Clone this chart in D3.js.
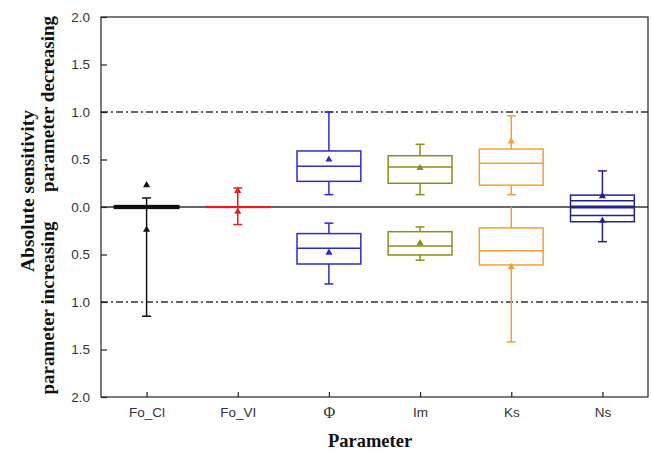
<!DOCTYPE html>
<html>
<head>
<meta charset="utf-8">
<script src="https://cdn.jsdelivr.net/npm/d3@7"></script>
<style>
  html, body { margin: 0; padding: 0; background: #fff; }
  svg { display: block; }
</style>
</head>
<body>
<svg id="chart" width="651" height="451"></svg>
<script>
// ---- data ----
const categories = ["Fo_Cl", "Fo_VI", "Φ", "Im", "Ks", "Ns"];
const colors = ["#111111", "#e0201c", "#2b2bd0", "#8c8c20", "#f5a035", "#22228c"];
// parameter decreasing (upper half): [whiskerLow, q1, median, q3, whiskerHigh, mean]
const decWhiskerLow  = [0,     0,     0.13, 0.13, 0.13, 0];
const decQ1          = [0,     0,     0.27, 0.25, 0.23, 0];
const decMedian      = [0,     0,     0.43, 0.42, 0.46, 0.065];
const decQ3          = [0.012, 0.004, 0.59, 0.54, 0.61, 0.125];
const decWhiskerHigh = [0.095, 0.20,  1.00, 0.66, 0.96, 0.38];
const decMean        = [0.23,  0.17,  0.50, 0.41, 0.69, 0.115];
// parameter increasing (lower half), absolute values
const incWhiskerLow  = [0,     0,     0.17, 0.21, 0,    0];
const incQ1          = [0,     0,     0.28, 0.26, 0.22, 0];
const incMedian      = [0,     0,     0.435,0.41, 0.46, 0.09];
const incQ3          = [0.012, 0.004, 0.60, 0.505,0.61, 0.155];
const incWhiskerHigh = [1.15,  0.185, 0.81, 0.56, 1.42, 0.365];
const incMean        = [0.24,  0.05,  0.48, 0.38, 0.63, 0.145];
const yTicks = [-2, -1.5, -1, -0.5, 0, 0.5, 1, 1.5, 2];

// ---- layout ----
const svg = d3.select("#chart");
const L = 101, R = 648, T = 17, B = 397;
const x = d3.scaleLinear().domain([0.5, 6.5]).range([L, R]);
const y = d3.scaleLinear().domain([-2, 2]).range([B, T]);
const boxW = (x(1) - x(0)) * 0.7;
const capW = 9;

// reference lines
svg.selectAll("line.ref").data([1, -1]).enter().append("line")
  .attr("x1", L).attr("x2", R)
  .attr("y1", d => y(d)).attr("y2", d => y(d))
  .attr("stroke", "#333").attr("stroke-width", 1.3)
  .attr("stroke-dasharray", "7,3,2,3");
svg.append("line")
  .attr("x1", L).attr("x2", R).attr("y1", y(0)).attr("y2", y(0))
  .attr("stroke", "#333").attr("stroke-width", 1.5);

// boxes
function drawBox(i, sign, wl, q1, md, q3, wh, mn) {
  const g = svg.append("g");
  const cx = x(i + 1);
  const c = colors[i];
  const sw = 1.5;
  g.append("line").attr("x1", cx).attr("x2", cx)
    .attr("y1", y(sign * q3)).attr("y2", y(sign * wh))
    .attr("stroke", c).attr("stroke-width", sw);
  g.append("line").attr("x1", cx).attr("x2", cx)
    .attr("y1", y(sign * q1)).attr("y2", y(sign * wl))
    .attr("stroke", c).attr("stroke-width", sw);
  [wl, wh].forEach(v => {
    if (v !== 0) {
      g.append("line").attr("x1", cx - capW / 2).attr("x2", cx + capW / 2)
        .attr("y1", y(sign * v)).attr("y2", y(sign * v))
        .attr("stroke", c).attr("stroke-width", sw);
    }
  });
  const yt = Math.min(y(sign * q1), y(sign * q3));
  const h = Math.abs(y(sign * q1) - y(sign * q3));
  g.append("rect").attr("x", cx - boxW / 2).attr("width", boxW)
    .attr("y", yt).attr("height", h)
    .attr("fill", i === 0 ? c : "none")
    .attr("stroke", c).attr("stroke-width", i === 0 ? 2 : sw);
  g.append("line").attr("x1", cx - boxW / 2).attr("x2", cx + boxW / 2)
    .attr("y1", y(sign * md)).attr("y2", y(sign * md))
    .attr("stroke", c).attr("stroke-width", sw);
  g.append("path").attr("d", d3.symbol().type(d3.symbolTriangle).size(22)())
    .attr("transform", `translate(${cx},${y(sign * mn)})`)
    .attr("fill", c);
}
categories.forEach((cat, i) => {
  drawBox(i, 1, decWhiskerLow[i], decQ1[i], decMedian[i], decQ3[i], decWhiskerHigh[i], decMean[i]);
  drawBox(i, -1, incWhiskerLow[i], incQ1[i], incMedian[i], incQ3[i], incWhiskerHigh[i], incMean[i]);
});
// Ns zero line thick
svg.append("line").attr("x1", x(6) - boxW / 2).attr("x2", x(6) + boxW / 2)
  .attr("y1", y(0)).attr("y2", y(0)).attr("stroke", colors[5]).attr("stroke-width", 3);

// frame
svg.append("rect").attr("x", L).attr("y", T).attr("width", R - L).attr("height", B - T)
  .attr("fill", "none").attr("stroke", "#222").attr("stroke-width", 1.2);

// axes
const yAxis = d3.axisLeft(y).tickValues(yTicks)
  .tickFormat(d => d3.format(".1f")(Math.abs(d)))
  .tickSizeInner(-6).tickSizeOuter(0).tickPadding(11);
const gy = svg.append("g").attr("transform", `translate(${L},0)`).call(yAxis);
gy.select(".domain").remove();
gy.selectAll("line").attr("stroke", "#222").attr("stroke-width", 1.2);
gy.selectAll("text").attr("font-family", "Liberation Sans, Arial, sans-serif")
  .attr("font-size", 13.5).attr("fill", "#333");

const xAxis = d3.axisBottom(x).tickValues([1, 2, 3, 4, 5, 6])
  .tickFormat(d => categories[d - 1])
  .tickSizeInner(-5).tickSizeOuter(0).tickPadding(10);
const gx = svg.append("g").attr("transform", `translate(0,${B})`).call(xAxis);
gx.select(".domain").remove();
gx.selectAll("line").attr("stroke", "#222").attr("stroke-width", 1.2);
gx.selectAll("text").attr("font-family", d => d === 3 ? "Liberation Serif, serif" : "Liberation Sans, Arial, sans-serif")
  .attr("font-size", d => d === 3 ? 16 : 13.5).attr("fill", "#333");

// titles
const serif = "Liberation Serif, Times New Roman, serif";
svg.append("text").attr("transform", "translate(34,191) rotate(-90)")
  .attr("text-anchor", "middle").attr("font-family", serif).attr("font-weight", "bold")
  .attr("font-size", 19.5).attr("fill", "#111").text("Absolute sensitivity");
svg.append("text").attr("transform", "translate(54,104) rotate(-90)")
  .attr("text-anchor", "middle").attr("font-family", serif).attr("font-weight", "bold")
  .attr("font-size", 19).attr("fill", "#111").text("parameter decreasing");
svg.append("text").attr("transform", "translate(54,308) rotate(-90)")
  .attr("text-anchor", "middle").attr("font-family", serif).attr("font-weight", "bold")
  .attr("font-size", 19).attr("fill", "#111").text("parameter increasing");
svg.append("text").attr("x", 370).attr("y", 447)
  .attr("text-anchor", "middle").attr("font-family", serif).attr("font-weight", "bold")
  .attr("font-size", 18.5).attr("fill", "#111").text("Parameter");
</script>
</body>
</html>
